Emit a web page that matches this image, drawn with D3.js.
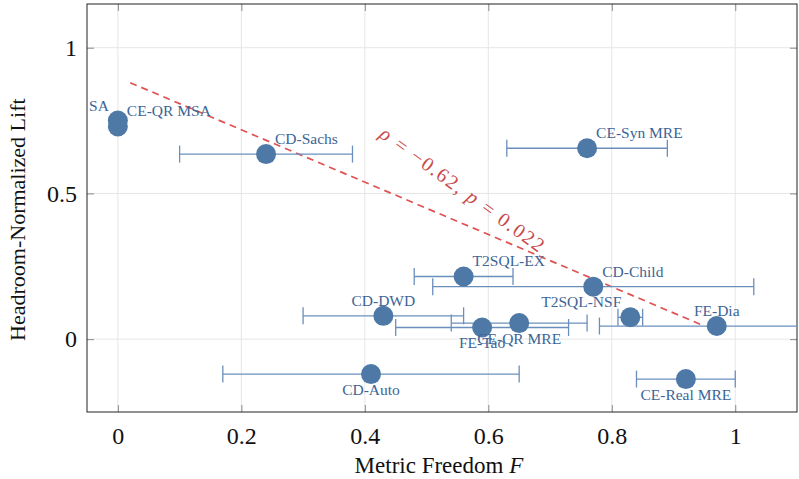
<!DOCTYPE html>
<html>
<head>
	<meta charset="utf-8">
	<script src="https://cdn.jsdelivr.net/npm/d3@7"></script>
	<style>
		body { margin: 0; background: #fff; }
		text { font-family: "Liberation Serif", "Times New Roman", serif; }
	</style>
</head>
<body>
	<svg id="chart" width="799" height="479"></svg>

	<script type="text/javascript">
		// chart data
		var names = ["SA", "CE-QR MSA", "CD-Sachs", "CE-Syn MRE", "T2SQL-EX", "CD-Child", "CD-DWD",
			"FE-Tao", "CE-QR MRE", "T2SQL-NSF", "FE-Dia", "CD-Auto", "CE-Real MRE"];
		var freedom = [0, 0, 0.24, 0.76, 0.56, 0.77, 0.43, 0.59, 0.65, 0.83, 0.97, 0.41, 0.92];
		var lift = [0.75, 0.73, 0.635, 0.655, 0.215, 0.18, 0.08, 0.04, 0.055, 0.075, 0.045, -0.12, -0.137];
		var freedomLow = [null, null, 0.10, 0.63, 0.48, 0.51, 0.30, 0.45, 0.54, 0.81, 0.78, 0.17, 0.84];
		var freedomHigh = [null, null, 0.38, 0.89, 0.64, 1.03, 0.56, 0.73, 0.76, 0.85, 1.16, 0.65, 1.00];
		var xTicks = [0, 0.2, 0.4, 0.6, 0.8, 1];
		var yTicks = [0, 0.5, 1];
		var trendX = [0.02, 0.95];
		var trendY = [0.88, 0.045];
		var rho = "\u22120.62";
		var pValue = "0.022";

		// where each point label sits relative to its marker
		var labelSide = {
			"SA": "al", "CE-QR MSA": "ar", "CD-Sachs": "ar", "CE-Syn MRE": "ar", "T2SQL-EX": "ar",
			"CD-Child": "ar", "CD-DWD": "a", "FE-Tao": "b", "CE-QR MRE": "b", "T2SQL-NSF": "al",
			"FE-Dia": "a", "CD-Auto": "b", "CE-Real MRE": "b"
		};

		function drawChart() {
			var svg = d3.select("#chart");
			var margin = {top: 4, right: 2, bottom: 67, left: 87};
			var width = +svg.attr("width") - margin.left - margin.right;
			var height = +svg.attr("height") - margin.top - margin.bottom;

			var x = d3.scaleLinear().domain([-0.05, 1.1]).range([0, width]);
			var y = d3.scaleLinear().domain([-0.25, 1.15]).range([height, 0]);

			var g = svg.append("g").attr("transform", "translate(" + margin.left + "," + margin.top + ")");

			svg.append("defs").append("clipPath").attr("id", "plotclip")
				.append("rect").attr("width", width).attr("height", height);

			// grid
			g.append("g").selectAll("line").data(xTicks).enter().append("line")
				.attr("x1", x).attr("x2", x).attr("y1", 0).attr("y2", height)
				.attr("stroke", "#e6e6e6").attr("stroke-width", 1);
			g.append("g").selectAll("line").data(yTicks).enter().append("line")
				.attr("y1", y).attr("y2", y).attr("x1", 0).attr("x2", width)
				.attr("stroke", "#e6e6e6").attr("stroke-width", 1);

			// axes with inward ticks on all four sides
			var tickFmt = d3.format("");
			var axBottom = g.append("g").attr("transform", "translate(0," + height + ")")
				.call(d3.axisBottom(x).tickValues(xTicks).tickSizeInner(-7).tickSizeOuter(0).tickPadding(15).tickFormat(tickFmt));
			var axTop = g.append("g")
				.call(d3.axisTop(x).tickValues(xTicks).tickSizeInner(-7).tickSizeOuter(0).tickFormat(""));
			var axLeft = g.append("g")
				.call(d3.axisLeft(y).tickValues(yTicks).tickSizeInner(-7).tickSizeOuter(0).tickPadding(10).tickFormat(tickFmt));
			var axRight = g.append("g").attr("transform", "translate(" + width + ",0)")
				.call(d3.axisRight(y).tickValues(yTicks).tickSizeInner(-7).tickSizeOuter(0).tickFormat(""));

			[axBottom, axTop, axLeft, axRight].forEach(function(a) {
				a.attr("font-family", null).attr("font-size", null);
				a.select(".domain").remove();
				a.selectAll(".tick line").attr("stroke", "#8a8a8a");
				a.selectAll(".tick text")
					.attr("font-size", 24).attr("fill", "#111");
			});

			g.append("rect").attr("width", width).attr("height", height)
				.attr("fill", "none").attr("stroke", "#222").attr("stroke-width", 1);

			var plot = g.append("g").attr("clip-path", "url(#plotclip)");

			// trend line
			var trend = trendX.map(function(d, i) { return [d, trendY[i]]; });
			plot.append("path")
				.datum(trend)
				.attr("d", d3.line().x(function(d) { return x(d[0]); }).y(function(d) { return y(d[1]); }))
				.attr("fill", "none").attr("stroke", "#e05252").attr("stroke-width", 1.7)
				.attr("stroke-dasharray", "7,5");

			var points = names.map(function(n, i) {
				return {name: n, x: freedom[i], y: lift[i], lo: freedomLow[i], hi: freedomHigh[i]};
			});
			var withErr = points.filter(function(d) { return d.lo !== null; });

			// error bars
			var errColor = "#6a8fbd";
			var eb = plot.append("g").selectAll("g").data(withErr).enter().append("g");
			eb.append("line")
				.attr("x1", function(d) { return x(d.lo); }).attr("x2", function(d) { return x(d.hi); })
				.attr("y1", function(d) { return y(d.y); }).attr("y2", function(d) { return y(d.y); })
				.attr("stroke", errColor).attr("stroke-width", 1.3);
			["lo", "hi"].forEach(function(k) {
				eb.append("line")
					.attr("x1", function(d) { return x(d[k]); }).attr("x2", function(d) { return x(d[k]); })
					.attr("y1", function(d) { return y(d.y) - 8.5; }).attr("y2", function(d) { return y(d.y) + 8.5; })
					.attr("stroke", errColor).attr("stroke-width", 1.3);
			});

			// markers
			plot.append("g").selectAll("circle").data(points).enter().append("circle")
				.attr("cx", function(d) { return x(d.x); })
				.attr("cy", function(d) { return y(d.y); })
				.attr("r", 10)
				.attr("fill", "#4e79a7");

			// point labels
			plot.append("g").selectAll("text").data(points).enter().append("text")
				.attr("x", function(d) {
					var s = labelSide[d.name];
					return x(d.x) + (s === "ar" ? 9 : s === "al" ? -9 : 0);
				})
				.attr("y", function(d) {
					return y(d.y) + (labelSide[d.name] === "b" ? 21 : -10);
				})
				.attr("text-anchor", function(d) {
					var s = labelSide[d.name];
					return s === "ar" ? "start" : s === "al" ? "end" : "middle";
				})
				.attr("font-size", 15.5)
				.attr("fill", "#3c6496")
				.text(function(d) { return d.name; });

			// correlation annotation
			var note = plot.append("text")
				.attr("transform", "translate(" + x(0.558) + "," + y(0.515) + ") rotate(36)")
				.attr("text-anchor", "middle")
				.attr("dy", "0.35em")
				.attr("font-size", 20)
				.attr("fill", "#c94a4a")
				.attr("textLength", 198)
				.attr("lengthAdjust", "spacing");
			note.append("tspan").attr("font-style", "italic").text("\u03c1");
			note.append("tspan").text(" = " + rho + ",  ");
			note.append("tspan").attr("font-style", "italic").text("p");
			note.append("tspan").text(" = " + pValue);

			// axis titles
			var xt = svg.append("text")
				.attr("x", margin.left + x(0.52)).attr("y", 473)
				.attr("text-anchor", "middle").attr("font-size", 23).attr("fill", "#111");
			xt.append("tspan").text("Metric Freedom ");
			xt.append("tspan").attr("font-style", "italic").text("F");

			svg.append("text")
				.attr("transform", "translate(25," + (margin.top + y(0.41)) + ") rotate(-90)")
				.attr("text-anchor", "middle").attr("font-size", 22).attr("fill", "#111")
				.text("Headroom-Normalized Lift");
		}

		drawChart();
	</script>
</body>
</html>
